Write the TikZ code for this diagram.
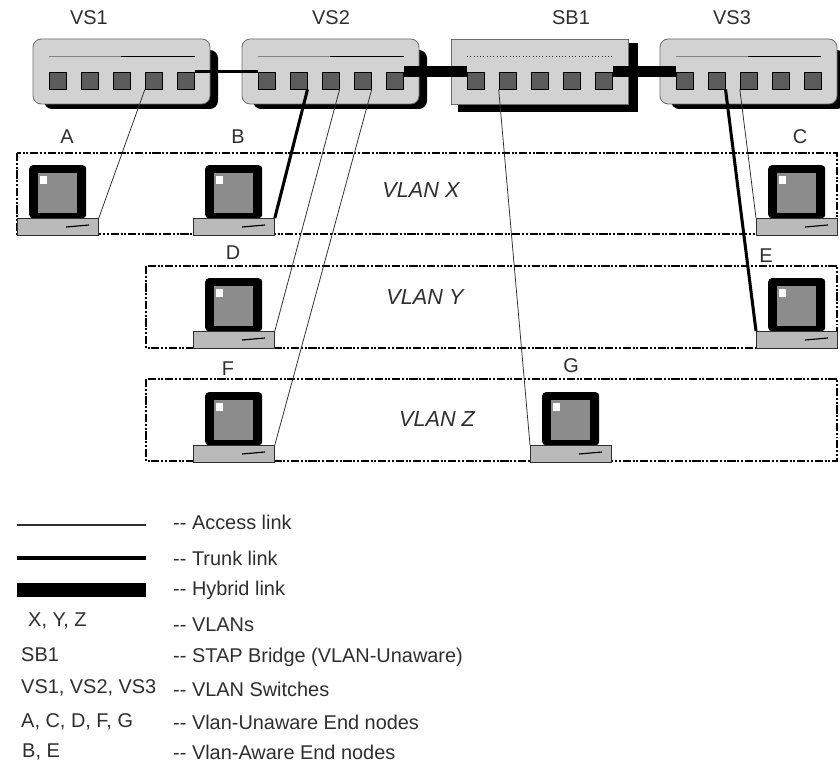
\documentclass[tikz,border=0pt]{standalone}
\usepackage{fontspec}
\setmainfont{Liberation Sans}
\usetikzlibrary{positioning}
\definecolor{Ink}{HTML}{2E2E2E}
\definecolor{BoxFill}{HTML}{D2D2D2}
\definecolor{PortFill}{HTML}{5C5C5C}
\definecolor{ScreenFill}{HTML}{8C8C8C}
\definecolor{BaseFill}{HTML}{BABABA}
\newcommand{\px}{0.03cm}
\tikzset{
  txt/.style={font=\fontsize{17}{20}\selectfont,text=Ink,inner sep=0pt},
  legendtxt/.style={txt,anchor=west},
  vlantxt/.style={txt,font=\fontsize{18.5}{20}\selectfont\itshape},
  vlanbox/.style={draw=black,line width=1.5pt,dash pattern=on 7pt off 1.5pt on 1.7pt off 1.5pt on 1.7pt off 1.5pt},
  switchbox/.style={draw=Ink!70,line width=0.7pt,fill=BoxFill,rounded corners=7pt},
  bridgebox/.style={draw=Ink!70,line width=0.7pt,fill=BoxFill},
  portbox/.style={rectangle,draw=black,line width=0.7pt,fill=PortFill,inner sep=0pt,minimum width=17*\px,minimum height=17*\px},
  monitorbox/.style={rectangle,fill=black,rounded corners=3pt,inner sep=0pt,minimum width=57*\px,minimum height=53*\px,anchor=north west},
  screenbox/.style={rectangle,fill=ScreenFill,inner sep=0pt,minimum width=39*\px,minimum height=40*\px,anchor=north west},
  glintbox/.style={rectangle,fill=white,inner sep=0pt,minimum width=7*\px,minimum height=8*\px,anchor=north west},
  basebox/.style={rectangle,draw=Ink,line width=0.7pt,fill=BaseFill,inner sep=0pt,minimum width=81*\px,minimum height=17*\px,anchor=north west},
  accesslink/.style={draw=Ink,line width=0.65pt},
  trunklink/.style={draw=black,line width=2.6pt},
  hybridlink/.style={draw=black,line width=10pt}
}
% one end station: monitor and base, named after its letter
\newcommand{\pcstation}[3]{
  \node[monitorbox] (mon#1) at (#2+12,#3) {};
  \node[screenbox] (scr#1) at (#2+21,#3+8) {};
  \node[glintbox] (gl#1) at (#2+23,#3+11) {};
  \node[basebox] (pc#1) at (#2,#3+53) {};
  \draw[black,line width=1pt] (#2+49,#3+62) -- (#2+72,#3+60);
}
% five ports in a row, left edge of the first at x
\newcommand{\portrow}[2]{
  \foreach \i in {1,...,5}
    \node[portbox] (#1p\i) at ({#2+8.5+(\i-1)*32.1},80.5) {};
}
\begin{document}
\begin{tikzpicture}[x=\px,y=-\px]
\useasboundingbox (0,0) rectangle (840,765);
\fill[white] (0,0) rectangle (840,765);
% vlans
\draw[vlanbox] (17,153) rectangle (837,234);
\draw[vlanbox] (146,266) rectangle (837,348);
\draw[vlanbox] (146,379) rectangle (837,461);
\node[vlantxt] (vlanx) at (421,190) {VLAN X};
\node[vlantxt] (vlany) at (425,297) {VLAN Y};
\node[vlantxt] (vlanz) at (437,419) {VLAN Z};
% switches
\fill[black,rounded corners=7pt] (44,50) rectangle (218,109);
\fill[black,rounded corners=7pt] (253,50) rectangle (427,109);
\fill[black] (458,43) rectangle (638,112);
\fill[black,rounded corners=7pt] (671,50) rectangle (845,109);
\draw[switchbox] (33,39) rectangle (210,104);
\draw[switchbox] (242,39) rectangle (419,104);
\draw[bridgebox] (451,39) rectangle (628,104);
\draw[switchbox] (660,39) rectangle (837,104);
\draw[Ink!60,line width=0.8pt] (49,56) -- (121,56);
\draw[black,line width=0.8pt] (121,56) -- (195,56);
\draw[Ink!60,line width=0.8pt] (258,56) -- (330,56);
\draw[black,line width=0.8pt] (330,56) -- (404,56);
\draw[Ink,line width=0.8pt,dotted] (467,56) -- (612,56);
\draw[Ink!60,line width=0.8pt] (676,56) -- (748,56);
\draw[black,line width=0.8pt] (748,56) -- (821,56);
\portrow{VSa}{49}
\portrow{VSb}{258}
\portrow{SB}{467}
\portrow{VSc}{676}
\node[txt] (lvsa) at (89,18) {VS1};
\node[txt] (lvsb) at (331,18) {VS2};
\node[txt] (lsb) at (571,18) {SB1};
\node[txt] (lvsc) at (732,18) {VS3};
% end stations
\pcstation{A}{17}{165}
\pcstation{B}{193}{165}
\pcstation{C}{756}{165}
\pcstation{D}{193}{278}
\pcstation{E}{756}{278}
\pcstation{F}{193}{392}
\pcstation{G}{530}{392}
\node[txt] (la) at (67,137) {A};
\node[txt] (lb) at (238,137) {B};
\node[txt] (lc) at (800,137) {C};
\node[txt] (ld) at (233,253) {D};
\node[txt] (le) at (766,256) {E};
\node[txt] (lf) at (228,369) {F};
\node[txt] (lg) at (571,366) {G};
% links
\draw[trunklink] (VSap5.north east) -- (VSbp1.north west);
\draw[hybridlink] (VSbp5.north east) -- (SBp1.north west);
\draw[hybridlink] (SBp5.north east) -- (VScp1.north west);
\draw[accesslink] (VSap4.south west) -- (pcA.north east);
\draw[trunklink] (VSbp2.south east) -- (pcB.north east);
\draw[accesslink] (VSbp3.south east) -- (pcD.north east);
\draw[accesslink] (VSbp4.south east) -- (pcF.north east);
\draw[accesslink] (SBp2.south west) -- (pcG.north west);
\draw[trunklink] (VScp2.south east) -- (pcE.north west);
\draw[accesslink] (VScp3.south west) -- (pcC.north west);
% legend
\coordinate (ka) at (17,525);
\coordinate (kb) at (146,525);
\coordinate (kc) at (17,558);
\coordinate (kd) at (146,558);
\coordinate (ke) at (17,590);
\coordinate (kf) at (146,590);
\draw[accesslink,line width=1pt] (ka) -- (kb);
\draw[trunklink] (kc) -- (kd);
\draw[black,line width=12pt] (ke) -- (kf);
\node[legendtxt] (ta) at (173,522) {-{}- Access link};
\node[legendtxt] (tb) at (173,558) {-{}- Trunk link};
\node[legendtxt] (tc) at (173,590) {-{}- Hybrid link};
\node[legendtxt] (td) at (173,625) {-{}- VLANs};
\node[legendtxt] (te) at (173,657) {-{}- STAP Bridge (VLAN-Unaware)};
\node[legendtxt] (tf) at (173,689) {-{}- VLAN Switches};
\node[legendtxt] (tg) at (173,722) {-{}- Vlan-Unaware End nodes};
\node[legendtxt] (th) at (173,752) {-{}- Vlan-Aware End nodes};
\node[legendtxt] (sa) at (28,621) {X, Y, Z};
\node[legendtxt] (sb) at (21,655) {SB1};
\node[legendtxt] (sc) at (21,688) {VS1, VS2, VS3};
\node[legendtxt] (sd) at (21,722) {A, C, D, F, G};
\node[legendtxt] (se) at (22,752) {B, E};
\end{tikzpicture}
\end{document}
